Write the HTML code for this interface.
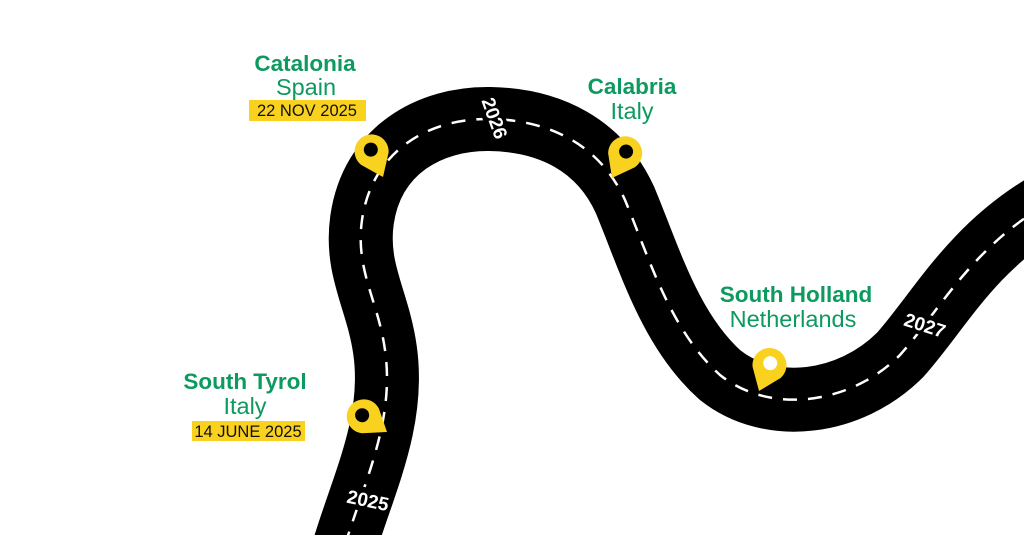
<!DOCTYPE html>
<html><head><style>
html,body{margin:0;padding:0;background:#fff;}
svg{display:block;}
.t{font-family:"Liberation Sans",sans-serif;fill:#0c9a5e;text-anchor:middle;}
.b{font-weight:bold;font-size:22.5px;}
.r{font-size:23.5px;}
.d{font-family:"Liberation Sans",sans-serif;font-size:16.5px;fill:#111;text-anchor:middle;}
.y{font-family:"Liberation Sans",sans-serif;font-weight:bold;font-size:19px;fill:#fff;text-anchor:middle;}
</style></head><body>
<svg width="1024" height="535" viewBox="0 0 1024 535">
<rect width="1024" height="535" fill="#fff"/>
<path d="M 345 545 C 365 480, 395 420, 385 350 C 378 300, 355 270, 362 220 C 372 150, 430 118, 490 119 C 550 120, 600 145, 625 200 C 650 260, 670 330, 720 375 C 770 415, 850 405, 900 355 C 940 310, 970 250, 1045 205" fill="none" stroke="#000" stroke-width="64"/>
<path d="M 345 545 C 365 480, 395 420, 385 350 C 378 300, 355 270, 362 220 C 372 150, 430 118, 490 119 C 550 120, 600 145, 625 200 C 650 260, 670 330, 720 375 C 770 415, 850 405, 900 355 C 940 310, 970 250, 1045 205" fill="none" stroke="#fff" stroke-width="2.5" stroke-dasharray="14 11"/>

<rect x="346" y="488" width="44" height="24" fill="#000" transform="rotate(12 368 500)"/>
<text class="y" x="368" y="507" transform="rotate(12 368 500)">2025</text>
<rect x="473" y="108" width="44" height="22" fill="#000" transform="rotate(70 495 118)"/>
<text class="y" x="495" y="125" transform="rotate(70 495 118)">2026</text>
<rect x="903" y="314" width="44" height="22" fill="#000" transform="rotate(18 925 325)"/>
<text class="y" x="925" y="332" transform="rotate(18 925 325)">2027</text>

<g fill="#f9d11f">
<g transform="translate(383 177) rotate(-24)"><path d="M0,0 L-15,-20 A17 17 0 1 1 15,-20 Z"/><circle cx="0" cy="-30" r="7" fill="#000"/></g>
<g transform="translate(612 178) rotate(28)"><path d="M0,0 L-15,-20 A17 17 0 1 1 15,-20 Z"/><circle cx="0" cy="-30" r="7" fill="#000"/></g>
<g transform="translate(759 391) rotate(22)"><path d="M0,0 L-15,-20 A17 17 0 1 1 15,-20 Z"/><circle cx="0" cy="-30" r="7" fill="#fff"/></g>
<g transform="translate(387 432) rotate(-56)"><path d="M0,0 L-15,-20 A17 17 0 1 1 15,-20 Z"/><circle cx="0" cy="-30" r="7" fill="#000"/></g>
</g>

<text class="t b" x="305" y="71">Catalonia</text>
<text class="t r" x="306" y="95">Spain</text>
<rect x="249" y="100" width="117" height="21" fill="#f9d11f"/>
<text class="d" x="307" y="116">22 NOV 2025</text>

<text class="t b" x="632" y="94">Calabria</text>
<text class="t r" x="632" y="119">Italy</text>

<text class="t b" x="796" y="302">South Holland</text>
<text class="t r" x="793" y="327">Netherlands</text>

<text class="t b" x="245" y="389">South Tyrol</text>
<text class="t r" x="245" y="414">Italy</text>
<rect x="192" y="421" width="113" height="20" fill="#f9d11f"/>
<text class="d" x="248" y="437">14 JUNE 2025</text>
</svg>
</body></html>
